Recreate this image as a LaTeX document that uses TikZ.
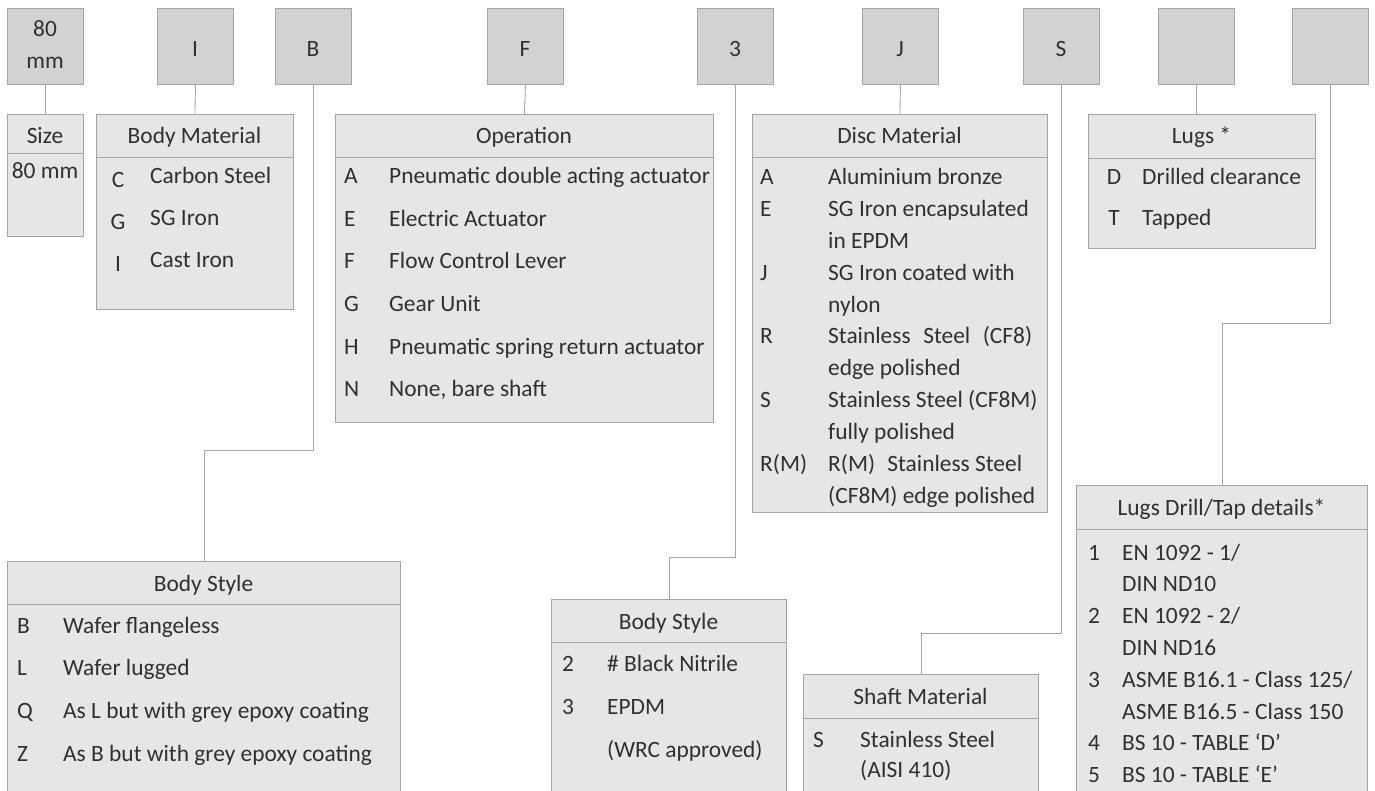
\documentclass[tikz,border=0pt]{standalone}
\usepackage{fontspec}
\setmainfont{Carlito}
\definecolor{lineg}{RGB}{165,165,167}
\definecolor{topfill}{RGB}{210,210,212}
\definecolor{panfill}{RGB}{230,230,232}
\definecolor{txtc}{RGB}{48,48,48}
\tikzset{
  topbox/.style={draw=lineg, fill=topfill, minimum width=76pt, minimum height=76pt, inner sep=0pt, line width=0.9pt, anchor=north west},
  panel/.style={draw=lineg, fill=panfill, inner sep=0pt, line width=0.9pt, anchor=north west},
  conn/.style={draw=lineg, line width=0.9pt},
  txt/.style={anchor=base west, inner sep=0pt, text=txtc, font=\fontsize{23.4pt}{28pt}\selectfont},
  ctxt/.style={anchor=base, inner sep=0pt, text=txtc, font=\fontsize{23.4pt}{28pt}\selectfont},
}
\begin{document}
\begin{tikzpicture}[x=1pt,y=-1pt]
\clip (0,0) rectangle (1375,791);
\fill[white] (0,0) rectangle (1375,791);

% top code boxes
\node[topbox] (t1) at (7,8) {};
\node[topbox] (tI) at (157,8) {};
\node[topbox] (tB) at (275,8) {};
\node[topbox] (tF) at (487,8) {};
\node[topbox] (t3) at (697,8) {};
\node[topbox] (tJ) at (862,8) {};
\node[topbox] (tS) at (1023,8) {};
\node[topbox] (tE1) at (1158,8) {};
\node[topbox] (tE2) at (1292,8) {};
\node[ctxt] (t1a) at (45,37) {80};
\node[ctxt] (t1b) at (45,69) {mm};
\node[ctxt] (tIa) at (195,57) {I};
\node[ctxt] (tBa) at (313,57) {B};
\node[ctxt] (tFa) at (525,57) {F};
\node[ctxt] (t3a) at (735,57) {3};
\node[ctxt] (tJa) at (900,57) {J};
\node[ctxt] (tSa) at (1061,57) {S};

% panels
\node[panel, minimum width=76pt, minimum height=122pt] (size) at (7,114) {};
\node[panel, minimum width=197pt, minimum height=195pt] (bmat) at (96,114) {};
\node[panel, minimum width=378pt, minimum height=308pt] (oper) at (335,114) {};
\node[panel, minimum width=295pt, minimum height=398pt] (disc) at (752,114) {};
\node[panel, minimum width=227pt, minimum height=134pt] (lugs) at (1088,114) {};
\node[panel, minimum width=393pt, minimum height=250pt] (bs1) at (7,561) {};
\node[panel, minimum width=235pt, minimum height=210pt] (bs2) at (551,599) {};
\node[panel, minimum width=235pt, minimum height=140pt] (shaft) at (803,674) {};
\node[panel, minimum width=291pt, minimum height=330pt] (ldt) at (1076,485) {};

% header separators
\draw[conn] (size.west |- 0,153) -- (size.east |- 0,153);
\draw[conn] (bmat.west |- 0,157) -- (bmat.east |- 0,157);
\draw[conn] (oper.west |- 0,157) -- (oper.east |- 0,157);
\draw[conn] (disc.west |- 0,157) -- (disc.east |- 0,157);
\draw[conn] (lugs.west |- 0,158) -- (lugs.east |- 0,158);
\draw[conn] (bs1.west |- 0,604) -- (bs1.east |- 0,604);
\draw[conn] (bs2.west |- 0,642) -- (bs2.east |- 0,642);
\draw[conn] (shaft.west |- 0,718) -- (shaft.east |- 0,718);
\draw[conn] (ldt.west |- 0,529) -- (ldt.east |- 0,529);

% connectors
\draw[conn] (t1.south) -- (size.north);
\draw[conn] (tI.south) -- (bmat.north);
\draw[conn] (tB.south) -- ++(0,366) -| (bs1.north);
\draw[conn] (tF.south) -- (oper.north);
\draw[conn] (t3.south) -- ++(0,473) -| (bs2.north);
\draw[conn] (tJ.south) -- (disc.north);
\draw[conn] (tS.south) -- ++(0,549) -| (shaft.north);
\draw[conn] (tE1.south) -- (tE1.south |- lugs.north);
\draw[conn] (tE2.south) -- ++(0,239) -| (ldt.north);

% Size
\node[ctxt] (sizeh) at (45,144) {Size};
\node[ctxt] (size1) at (45,179) {80 mm};

% Body Material
\node[ctxt] (bmath) at (194.5,144) {Body Material};
\node[ctxt] (bmc1) at (118,188) {C};
\node[txt] (bmd1) at (150,184) {Carbon Steel};
\node[ctxt] (bmc2) at (118,230) {G};
\node[txt] (bmd2) at (150,226) {SG Iron};
\node[ctxt] (bmc3) at (118,272) {I};
\node[txt] (bmd3) at (150,268) {Cast Iron};

% Operation
\node[ctxt] (oph) at (524,144) {Operation};
\node[txt] (opc1) at (344,184) {A};
\node[txt] (opd1) at (389,184) {Pneumatic double acting actuator};
\node[txt] (opc2) at (344,226.5) {E};
\node[txt] (opd2) at (389,226.5) {Electric Actuator};
\node[txt] (opc3) at (344,269) {F};
\node[txt] (opd3) at (389,269) {Flow Control Lever};
\node[txt] (opc4) at (344,311.5) {G};
\node[txt] (opd4) at (389,311.5) {Gear Unit};
\node[txt] (opc5) at (344,354) {H};
\node[txt] (opd5) at (389,354) {Pneumatic spring return actuator};
\node[txt] (opc6) at (344,396.5) {N};
\node[txt] (opd6) at (389,396.5) {None, bare shaft};

% Disc Material
\node[ctxt] (dmh) at (899.5,144) {Disc Material};
\node[txt] (dmc1) at (760,185) {A};
\node[txt] (dmd1) at (828,185) {Aluminium bronze};
\node[txt] (dmc2) at (760,216.8) {E};
\node[txt] (dmd2) at (828,216.8) {SG Iron encapsulated};
\node[txt] (dmd2b) at (828,248.6) {in EPDM};
\node[txt] (dmc3) at (760,280.4) {J};
\node[txt] (dmd3) at (828,280.4) {SG Iron coated with};
\node[txt] (dmd3b) at (828,312.2) {nylon};
\node[txt] (dmc4) at (760,344) {R};
\node[txt] (dmd4) at (828,344) {\makebox[204pt][s]{Stainless Steel (CF8)}};
\node[txt] (dmd4b) at (828,375.8) {edge polished};
\node[txt] (dmc5) at (760,407.6) {S};
\node[txt] (dmd5) at (828,407.6) {Stainless Steel (CF8M)};
\node[txt] (dmd5b) at (828,439.4) {fully polished};
\node[txt] (dmc6) at (760,471.2) {R(M)};
\node[txt] (dmd6) at (828,471.2) {R(M)\hspace{7pt} Stainless Steel};
\node[txt] (dmd6b) at (828,503) {(CF8M) edge polished};

% Lugs
\node[ctxt] (lgh) at (1201.5,144) {Lugs *};
\node[ctxt] (lgc1) at (1114,185) {D};
\node[txt] (lgd1) at (1142,185) {Drilled clearance};
\node[ctxt] (lgc2) at (1114,226) {T};
\node[txt] (lgd2) at (1142,226) {Tapped};

% Body Style (left)
\node[ctxt] (bs1h) at (203.5,591) {Body Style};
\node[txt] (bs1c1) at (17,633) {B};
\node[txt] (bs1d1) at (63,633) {Wafer flangeless};
\node[txt] (bs1c2) at (17,675.7) {L};
\node[txt] (bs1d2) at (63,675.7) {Wafer lugged};
\node[txt] (bs1c3) at (17,718.4) {Q};
\node[txt] (bs1d3) at (63,718.4) {As L but with grey epoxy coating};
\node[txt] (bs1c4) at (17,761.1) {Z};
\node[txt] (bs1d4) at (63,761.1) {As B but with grey epoxy coating};

% Body Style (seat)
\node[ctxt] (bs2h) at (668.5,629) {Body Style};
\node[txt] (bs2c1) at (562,671) {2};
\node[txt] (bs2d1) at (607,671) {\# Black Nitrile};
\node[txt] (bs2c2) at (562,714) {3};
\node[txt] (bs2d2) at (607,714) {EPDM};
\node[txt] (bs2d3) at (607,757) {(WRC approved)};

% Shaft Material
\node[ctxt] (shh) at (920.5,704.5) {Shaft Material};
\node[txt] (shc1) at (813,747) {S};
\node[txt] (shd1) at (860,747) {Stainless Steel};
\node[txt] (shd1b) at (860,777) {(AISI 410)};

% Lugs Drill/Tap details
\node[ctxt] (ldh) at (1221.5,515.5) {Lugs Drill/Tap details*};
\node[txt] (ldc1) at (1088,560) {1};
\node[txt] (ldd1) at (1122,560) {EN 1092 - 1/};
\node[txt] (ldd1b) at (1122,591.8) {DIN ND10};
\node[txt] (ldc2) at (1088,623.6) {2};
\node[txt] (ldd2) at (1122,623.6) {EN 1092 - 2/};
\node[txt] (ldd2b) at (1122,655.4) {DIN ND16};
\node[txt] (ldc3) at (1088,687.2) {3};
\node[txt] (ldd3) at (1122,687.2) {ASME B16.1 - Class 125/};
\node[txt] (ldd3b) at (1122,719) {ASME B16.5 - Class 150};
\node[txt] (ldc4) at (1088,750.8) {4};
\node[txt] (ldd4) at (1122,750.8) {BS 10 - TABLE ‘D’};
\node[txt] (ldc5) at (1088,782.6) {5};
\node[txt] (ldd5) at (1122,782.6) {BS 10 - TABLE ‘E’};
\end{tikzpicture}
\end{document}
